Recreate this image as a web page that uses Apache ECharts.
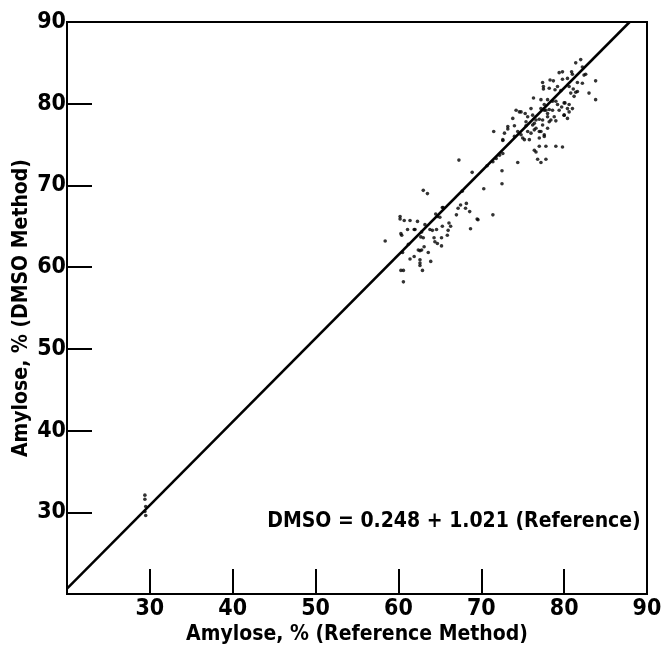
<!DOCTYPE html>
<html>
<head>
<meta charset="utf-8">
<script src="https://cdn.jsdelivr.net/npm/echarts@6/dist/echarts.min.js"></script>
<style>html,body{margin:0;padding:0;background:#fff}#c{width:661px;height:659px}</style>
</head>
<body>
<div id="c"></div>
<script>
// Reference method amylose (%) and DMSO method amylose (%)
const refX = [
29.4,29.4,29.5,29.4,29.5,
58.4,60.2,60.2,60.7,61.4,62.3,60.3,60.4,61.1,62.0,63.2,63.8,64.1,64.6,65.3,64.5,64.7,65.0,65.3,66.1,66.3,62.8,62.7,63.0,64.3,64.4,65.2,64.7,65.2,65.9,66.0,60.5,62.4,62.6,62.8,61.4,61.9,62.6,62.6,62.6,63.9,60.3,60.6,62.9,60.6,67.2,67.5,68.2,68.1,68.6,67.0,69.5,68.7,63.0,63.5,65.4,61.9,63.1,61.2,63.6,
67.3,68.9,72.5,72.5,70.3,67.7,71.4,70.7,71.4,71.8,72.2,72.6,74.4,71.5,72.6,72.8,69.6,
82.0,81.4,82.2,79.8,79.4,80.9,81.0,82.6,80.4,79.8,81.6,82.2,83.8,77.4,78.3,78.7,79.2,77.5,77.5,78.2,78.9,79.6,80.6,81.1,81.4,81.2,83.0,83.8,76.3,77.2,78.0,78.6,79.0,79.2,79.7,80.1,80.6,81.0,76.0,77.2,77.6,78.2,74.2,74.8,73.8,75.6,76.2,76.6,77.0,78.0,78.8,80.0,80.4,73.2,74.0,75.4,76.4,77.4,78.2,74.4,74.8,75.6,76.0,76.4,77.2,78.0,74.0,75.2,77.0,77.6,77.0,77.8,79.0,79.8,76.4,76.6,76.8,77.2,77.8,
75.3,75.4,76.2,82.4,80.8,81.6,80.0,80.4,80.6,80.0,79.4,78.6,77.6,77.8,78.0,77.4,78.4,79.0,76.6,77.0,77.6,75.0,75.8,73.2,74.6,72.6
];
const dmsoY = [
32.1,31.6,30.7,30.1,29.6,
63.2,66.2,65.9,65.7,65.7,65.6,64.1,63.9,64.6,64.6,65.2,64.6,64.5,64.6,65.0,66.5,66.2,66.1,67.3,65.4,65.0,64.3,63.7,63.6,63.6,63.1,63.6,62.9,62.6,63.9,64.5,61.8,62.1,62.0,62.1,61.0,61.3,60.9,60.5,60.2,60.7,59.6,59.6,59.6,58.2,67.2,67.6,67.8,67.2,66.8,66.4,65.9,64.7,69.4,69.0,67.3,64.6,62.5,62.8,61.8,
73.1,71.6,71.8,70.2,69.6,69.3,66.4,72.4,72.9,73.3,73.7,73.9,72.8,76.6,75.5,76.4,65.8,
85.4,85.0,84.5,83.9,83.8,83.9,83.6,83.6,83.1,83.0,82.6,82.5,82.8,82.6,82.9,82.8,82.1,82.1,81.8,81.9,81.7,81.6,82.1,81.8,81.4,80.9,81.3,80.5,80.7,80.5,80.5,80.3,80.3,79.9,79.6,80.1,79.9,79.4,79.4,79.4,79.2,79.3,79.2,79.0,78.2,78.4,78.6,78.0,78.1,78.4,78.4,78.6,78.2,77.2,77.3,77.3,77.6,77.4,77.8,76.6,76.2,76.6,76.4,76.8,76.6,77.0,76.0,75.6,75.8,76.2,74.8,74.8,74.8,74.7,74.3,74.1,73.2,72.8,73.2,
78.8,77.8,77.4,83.5,81.3,81.5,80.1,79.4,79.0,78.6,79.2,79.2,79.9,79.2,78.8,78.0,78.0,77.9,77.0,76.6,76.0,75.8,75.6,76.9,79.0,75.6
];
const xTicks = [20, 30, 40, 50, 60, 70, 80, 90];
const yTicks = [20, 30, 40, 50, 60, 70, 80, 90];
const fitIntercept = [0.248];
const fitSlope = [1.021];
const xName = 'Amylose, % (Reference Method)';
const yName = 'Amylose, % (DMSO Method)';
const eqText = 'DMSO = 0.248 + 1.021 (Reference)';

const pts = refX.map((x, i) => [x, dmsoY[i]]);
const b = fitIntercept[0], m = fitSlope[0];
const xMin = xTicks[0], xMax = xTicks[xTicks.length - 1];
const yMax = yTicks[yTicks.length - 1];
const fitLine = [[xMin, b + m * xMin], [(yMax - b) / m, yMax]];

const FONT = "'Liberation Sans Narrow', 'DejaVu Sans Condensed', 'Roboto Condensed', sans-serif";
const chart = echarts.init(document.getElementById('c'), null, {renderer: 'canvas'});
chart.setOption({
  animation: false,
  backgroundColor: '#fff',
  grid: {left: 67, right: 14, top: 22, bottom: 65, show: true, borderColor: '#000', borderWidth: 2,
    containLabel: false, outerBoundsMode: 'none'},
  xAxis: {
    type: 'value', min: xMin, max: xMax, interval: 10,
    name: xName, nameLocation: 'middle', nameGap: 30, nameMoveOverlap: false,
    nameTextStyle: {fontFamily: FONT, fontWeight: 'bold', fontSize: 21, color: '#000'},
    axisLine: {show: true, lineStyle: {color: '#000', width: 2}},
    axisTick: {show: true, inside: true, length: 25, lineStyle: {color: '#000', width: 2}},
    axisLabel: {fontFamily: FONT, fontWeight: 'bold', fontSize: 23, color: '#000', margin: 4,
      formatter: v => (v === xMin ? '' : String(v))},
    splitLine: {show: false}
  },
  yAxis: {
    type: 'value', min: yTicks[0], max: yMax, interval: 10,
    name: yName, nameLocation: 'middle', nameGap: 35, nameRotate: 90, nameMoveOverlap: false,
    nameTextStyle: {fontFamily: FONT, fontWeight: 'bold', fontSize: 21, color: '#000'},
    axisLine: {show: true, lineStyle: {color: '#000', width: 2}},
    axisTick: {show: true, inside: true, length: 25, lineStyle: {color: '#000', width: 2}},
    axisLabel: {fontFamily: FONT, fontWeight: 'bold', fontSize: 23, color: '#000', margin: 1,
      formatter: v => (v === yTicks[0] ? '' : String(v))},
    splitLine: {show: false}
  },
  series: [
    {type: 'scatter', data: pts, symbol: 'circle', symbolSize: 3.6,
      itemStyle: {color: '#000'}, silent: true},
    {type: 'line', data: fitLine, showSymbol: false, symbol: 'none',
      lineStyle: {color: '#000', width: 2.5}, silent: true}
  ],
  graphic: [{
    type: 'text',
    style: {text: eqText, font: 'bold 21px ' + FONT, fill: '#000', textAlign: 'center', textVerticalAlign: 'middle',
      x: 454, y: 522}
  }]
});
</script>
</body>
</html>
